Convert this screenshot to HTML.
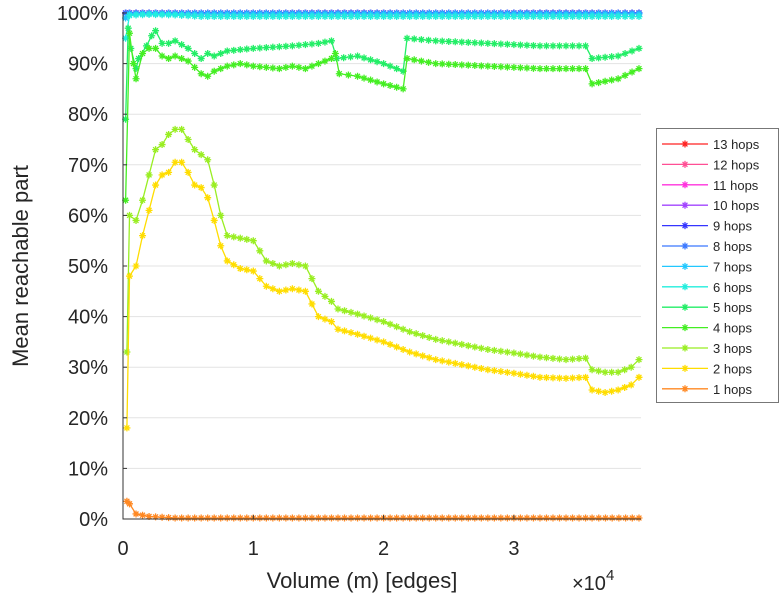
<!DOCTYPE html>
<html><head><meta charset="utf-8"><style>
body{margin:0;background:#fff;}
svg text{font-family:"Liberation Sans",sans-serif;fill:#262626;}
</style></head><body>
<svg id="chart" width="781" height="600" xmlns="http://www.w3.org/2000/svg">
<g id="grid"></g><g id="series"></g><g id="axes"></g><g id="legend"></g>
</svg>
<script>
const yTicks=[0,10,20,30,40,50,60,70,80,90,100];
const xTicks=[0,1,2,3];
const seriesNames=["13 hops","12 hops","11 hops","10 hops","9 hops","8 hops","7 hops","6 hops","5 hops","4 hops","3 hops","2 hops","1 hops"];
const seriesColors=["#ff2222","#ff4f95","#ff33dd","#a244ff","#3535ff","#3b78ff","#22c8ff","#22eedd","#22ee66","#44ee22","#99ee22","#ffdd00","#ff8822"];
// x in thousands of edges
const xHi=[0.2,0.5,1,2,4,6,8,10,14,18,22,26,30,34,36,38,39.6];
const yTop=[100,100,100,100,100,100,100,100,100,100,100,100,100,100,100,100,100];
const y7=[99,99.8,99.8,99.9,99.8,99.8,99.8,99.8,99.8,99.8,99.8,99.8,99.8,99.8,99.8,99.8,99.8];
const y6=[95,99.5,99.6,99.7,99.6,99.3,99.3,99.3,99.3,99.3,99.3,99.3,99.3,99.3,99.3,99.3,99.3];
const x5=[0.2,0.4,0.6,1,1.2,1.8,2.2,2.5,3,3.5,4,5,6,6.5,7,8,10,13,15,16,16.4,18,20,21.5,21.8,24,28,32,35.5,36,38,39.6];
const y5=[79,97,93,89,91,93.5,95.5,96.5,94,94,94.5,93,91,92,91.5,92.5,93,93.5,94,94.5,91,91.5,90,88.5,95,94.5,94,93.5,93.5,91,91.5,93];
const x4=[0.2,0.5,0.8,1,1.5,2,2.5,3,3.5,4,5,6,6.5,7,8,9,10,12,13,14,15,16,16.3,16.6,18,20,21.5,21.8,24,28,32,35.5,36,38,39.6];
const y4=[63,96,90,87,92,93,93,91.5,91,91.5,90.5,88,87.5,88.5,89.5,90,89.5,89,89.5,89,90,91,92,88,87.5,86,85,91,90,89.5,89,89,86,87,89];
const xLo=[0.3,0.5,1,1.5,2,2.5,3,3.5,4,4.5,5,5.5,6,6.5,7,7.5,8,9,10,11,12,13,14,15,16,16.5,18,20,22,24,26,28,30,32,34,35.5,36,37,38,39,39.6];
const y3=[33,60,59,63,68,73,74,76,77,77,75,73,72,71,66,60,56,55.5,55,51,50,50.5,50,45,43,41.5,40.5,39,37,35.5,34.5,33.5,32.8,32,31.5,31.8,29.5,29,29,30,31.5];
const y2=[18,48,50,56,61,66,68,68.5,70.5,70.5,68.5,66,65.5,63.5,59,54,51,49.5,49,46,45,45.5,45,40,39,37.5,36.5,35,33,31.5,30.5,29.5,28.8,28,27.8,28,25.5,25,25.5,26.5,28];
const x1=[0.3,0.5,1,2,4,8,12,16,20,24,28,32,36,39.6];
const y1=[3.5,3,1,0.5,0.2,0.2,0.2,0.2,0.2,0.2,0.2,0.2,0.2,0.2];

const X0=123,XS=13.03,Y0=519,YS=5.06;
const sx=v=>X0+v*XS, sy=v=>Y0-v*YS;
const NS="http://www.w3.org/2000/svg";
function mk(tag,attrs,parent){const e=document.createElementNS(NS,tag);for(const k in attrs)e.setAttribute(k,attrs[k]);parent.appendChild(e);return e;}
const grid=document.getElementById('grid'),axes=document.getElementById('axes'),ser=document.getElementById('series'),leg=document.getElementById('legend');
yTicks.forEach(t=>{
 const l=mk('line',{x1:X0,x2:641,y1:sy(t),y2:sy(t),stroke:'#e3e3e3','stroke-width':1},grid);
 
 
 const tk=mk('line',{x1:X0,x2:X0+4,y1:sy(t),y2:sy(t),stroke:'#333'},axes);
 
 
 const tx=mk('text',{x:108,y:sy(t)+7,'text-anchor':'end','font-size':20},axes);tx.textContent=t+'%';
 
 
});
xTicks.forEach(t=>{
 const tk=mk('line',{x1:sx(t*10),x2:sx(t*10),y1:Y0,y2:Y0-4,stroke:'#333'},axes);
 
 
 const tx=mk('text',{x:sx(t*10),y:555,'text-anchor':'middle','font-size':20},axes);tx.textContent=t;
 
 
});
const ax=mk('path',{d:`M${X0},12 V${Y0} H641`,fill:'none',stroke:'#333','stroke-width':1},axes);


const xt=mk('text',{x:362,y:588,'text-anchor':'middle','font-size':22},axes);xt.textContent='Volume (m) [edges]';


const ex=mk('text',{x:572,y:590,'font-size':20},axes);ex.innerHTML='×10<tspan dy="-10" font-size="15">4</tspan>';


const yt=mk('text',{x:0,y:0,'text-anchor':'middle','font-size':22,transform:'translate(28,266) rotate(-90)'},axes);yt.textContent='Mean reachable part';



function star(x,y,c,r,parent){
 const d=`M${x-r},${y}H${x+r}M${x},${y-r}V${y+r}M${x-r*.7},${y-r*.7}L${x+r*.7},${y+r*.7}M${x-r*.7},${y+r*.7}L${x+r*.7},${y-r*.7}`;
 return mk('path',{d,stroke:c,'stroke-width':1.3,fill:'none'},parent);
}
const data=[[xHi,yTop],[xHi,yTop],[xHi,yTop],[xHi,yTop],[xHi,yTop],[xHi,yTop],[xHi,y7],[xHi,y6],[x5,y5],[x4,y4],[xLo,y3],[xLo,y2],[x1,y1]];
data.forEach((s,i)=>{
 const [xs,ys]=s;const c=seriesColors[i];
 const g=mk('g',{},ser);
 
 
 mk('polyline',{points:xs.map((x,j)=>sx(x)+','+sy(ys[j])).join(' '),fill:'none',stroke:c,'stroke-width':1.3},g);
 for(let j=0;j<xs.length;j++){
  star(sx(xs[j]),sy(ys[j]),c,3.5,g);
  if(j<xs.length-1){
   const ax0=sx(xs[j]),ay0=sy(ys[j]),ax1=sx(xs[j+1]),ay1=sy(ys[j+1]);
   const n=Math.floor((ax1-ax0)/6.5);
   for(let k=1;k<n;k++){const f=k/n;star(ax0+(ax1-ax0)*f,ay0+(ay1-ay0)*f,c,3.5,g);}
  }
 }
});
const box=mk('rect',{x:656.5,y:128.5,width:122,height:274,fill:'#fff',stroke:'#777'},leg);


seriesNames.forEach((n,i)=>{
 const y=144+i*20.4,c=seriesColors[i];
 const g=mk('g',{},leg);
 
 
 mk('line',{x1:662,x2:708,y1:y,y2:y,stroke:c,'stroke-width':1.3},g);
 star(685,y,c,3.5,g);
 const t=mk('text',{x:713,y:y+5,'font-size':13},g);t.textContent=n;
});
</script>
</body></html>
